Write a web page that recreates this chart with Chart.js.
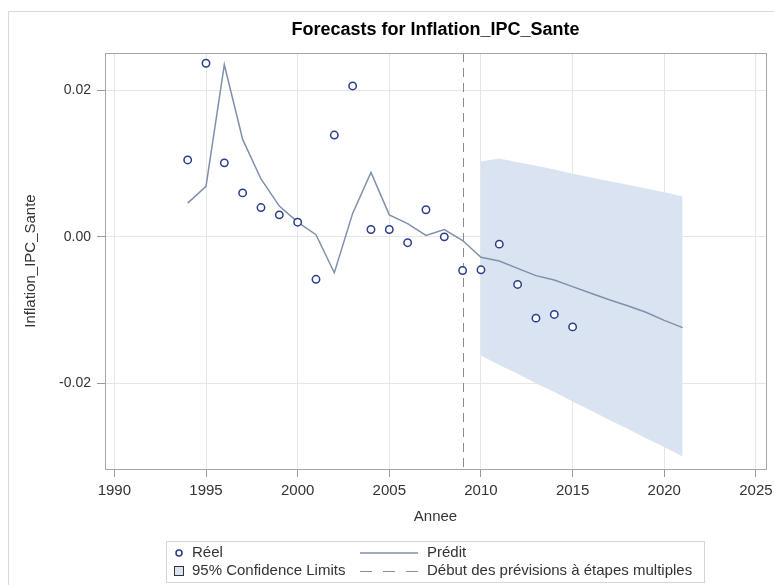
<!DOCTYPE html>
<html>
<head>
<meta charset="utf-8">
<script src="https://cdn.jsdelivr.net/npm/chart.js@4"></script>
<style>
  html, body { margin: 0; padding: 0; background: #fff; }
  #wrap { width: 774px; height: 585px; }
</style>
</head>
<body>
<div id="wrap"><canvas id="myForecastChart" width="774" height="585"></canvas></div>
<script>
// values
const yearsActual = [1994, 1995, 1996, 1997, 1998, 1999, 2000, 2001, 2002, 2003, 2004,
  2005, 2006, 2007, 2008, 2009, 2010, 2011, 2012, 2013, 2014, 2015];
const actual = [0.0105, 0.0237, 0.0101, 0.0060, 0.0040, 0.0030, 0.0020, -0.0058, 0.0139, 0.0206, 0.0010,
  0.0010, -0.0008, 0.0037, 0.0000, -0.0046, -0.0045, -0.0010, -0.0065, -0.0111, -0.0106, -0.0123];

const yearsPred = [1994, 1995, 1996, 1997, 1998, 1999, 2000, 2001, 2002, 2003, 2004, 2005, 2006, 2007,
  2008, 2009, 2010, 2011, 2012, 2013, 2014, 2015, 2016, 2017, 2018, 2019, 2020, 2021];
const predicted = [0.0046, 0.0069, 0.0235, 0.0133, 0.0079, 0.0042, 0.0020, 0.0003, -0.0049, 0.0032, 0.0088, 0.0030, 0.0018, 0.0002,
  0.0010, -0.0005, -0.0028, -0.0033, -0.0043, -0.0053, -0.0059, -0.0068, -0.0077, -0.0086, -0.0094, -0.0103, -0.0114, -0.0124];

const yearsBand = [2010, 2011, 2012, 2013, 2014, 2015, 2016, 2017, 2018, 2019, 2020, 2021];
const upper95 = [0.0103, 0.0107, 0.0102, 0.0097, 0.0092, 0.0086, 0.0081, 0.0076, 0.0071, 0.0066, 0.0061, 0.0055];
const lower95 = [-0.0162, -0.0175, -0.0187, -0.0200, -0.0212, -0.0225, -0.0237, -0.0250, -0.0262, -0.0275, -0.0287, -0.0300];

const forecastStart = 2009;
const xTicks = [1990, 1995, 2000, 2005, 2010, 2015, 2020, 2025];
const yTicks = [-0.02, 0.00, 0.02];

const chartTitle = 'Forecasts for Inflation_IPC_Sante';
const legendItems = ['Réel', 'Prédit', '95% Confidence Limits', 'Début des prévisions à étapes multiples'];

const pointColor = '#2c3c8c';
const lineColor = '#8090aa';
const bandColor = 'rgb(217, 227, 242)';
const textColor = '#333333';
const fontFamily = '"Liberation Sans", Arial, sans-serif';

function pairs(xs, ys) {
  return xs.map((x, i) => ({ x: x, y: ys[i] }));
}

// frame, title, forecast start line and the SAS style legend
const decorations = {
  id: 'decorations',
  beforeDatasetsDraw(chart) {
    const ctx = chart.ctx;
    const a = chart.chartArea;
    const x = chart.scales.x.getPixelForValue(forecastStart);
    ctx.save();
    ctx.strokeStyle = '#8c8c8c';
    ctx.lineWidth = 1;
    ctx.setLineDash([9, 6]);
    ctx.beginPath();
    ctx.moveTo(Math.round(x) + 0.5, a.top);
    ctx.lineTo(Math.round(x) + 0.5, a.bottom);
    ctx.stroke();
    ctx.restore();
  },
  afterDraw(chart) {
    const ctx = chart.ctx;
    const a = chart.chartArea;
    ctx.save();

    // outer border of the graph
    ctx.strokeStyle = '#d9d9d9';
    ctx.lineWidth = 1;
    ctx.beginPath();
    ctx.moveTo(8.5, 585);
    ctx.lineTo(8.5, 11.5);
    ctx.lineTo(774, 11.5);
    ctx.stroke();

    // plot frame
    ctx.strokeStyle = '#a6a6a6';
    ctx.strokeRect(Math.round(a.left) + 0.5, Math.round(a.top) + 0.5,
      Math.round(a.right - a.left), Math.round(a.bottom - a.top));

    // title
    ctx.fillStyle = '#000';
    ctx.font = 'bold 18px ' + fontFamily;
    ctx.textAlign = 'center';
    ctx.textBaseline = 'middle';
    ctx.fillText(chartTitle, (a.left + a.right) / 2, 30);

    // legend box
    ctx.strokeStyle = '#d4d4d4';
    ctx.strokeRect(166.5, 541.5, 538, 41);
    ctx.font = '15px ' + fontFamily;
    ctx.textAlign = 'left';
    ctx.fillStyle = textColor;
    const r1 = 553, r2 = 571;

    ctx.strokeStyle = pointColor;
    ctx.lineWidth = 1.5;
    ctx.beginPath();
    ctx.arc(179, r1, 3, 0, Math.PI * 2);
    ctx.stroke();
    ctx.fillText(legendItems[0], 192, r1);

    ctx.fillStyle = bandColor;
    ctx.fillRect(174, r2 - 5, 10, 10);
    ctx.strokeStyle = '#333';
    ctx.lineWidth = 1;
    ctx.strokeRect(174.5, r2 - 4.5, 9, 9);
    ctx.fillStyle = textColor;
    ctx.fillText(legendItems[2], 192, r2);

    ctx.strokeStyle = lineColor;
    ctx.lineWidth = 1.5;
    ctx.beginPath();
    ctx.moveTo(360, r1);
    ctx.lineTo(418, r1);
    ctx.stroke();
    ctx.fillText(legendItems[1], 427, r1);

    ctx.strokeStyle = '#8c8c8c';
    ctx.lineWidth = 1;
    ctx.setLineDash([12, 11]);
    ctx.beginPath();
    ctx.moveTo(360, r2 + 0.5);
    ctx.lineTo(418, r2 + 0.5);
    ctx.stroke();
    ctx.setLineDash([]);
    ctx.fillText(legendItems[3], 427, r2);

    ctx.restore();
  }
};

var ctx = document.getElementById('myForecastChart');
var myForecastChart = new Chart(ctx, {
  type: 'line',
  data: {
    datasets: [
      {
        label: legendItems[0],
        data: pairs(yearsActual, actual),
        showLine: false,
        pointStyle: 'circle',
        pointRadius: 3.7,
        pointBorderWidth: 1.5,
        pointBorderColor: pointColor,
        pointBackgroundColor: '#fff',
        order: 1
      },
      {
        label: legendItems[1],
        data: pairs(yearsPred, predicted),
        borderColor: lineColor,
        borderWidth: 1.5,
        pointRadius: 0,
        tension: 0,
        fill: false,
        order: 2
      },
      {
        label: 'lower',
        data: pairs(yearsBand, lower95),
        borderWidth: 0,
        borderColor: 'rgba(0,0,0,0)',
        pointRadius: 0,
        fill: false,
        order: 3
      },
      {
        label: legendItems[2],
        data: pairs(yearsBand, upper95),
        borderWidth: 0,
        borderColor: 'rgba(0,0,0,0)',
        backgroundColor: bandColor,
        pointRadius: 0,
        fill: '-1',
        order: 4
      }
    ]
  },
  options: {
    responsive: false,
    animation: false,
    layout: { padding: { top: 53, right: 8, bottom: 56, left: 0 } },
    plugins: {
      legend: { display: false },
      tooltip: { enabled: false },
      filler: { propagate: false }
    },
    scales: {
      x: {
        type: 'linear',
        min: 1989.49,
        max: 2025.55,
        afterBuildTicks: s => { s.ticks = xTicks.map(v => ({ value: v })); },
        afterFit: s => { s.height = 60; s.paddingLeft = 0; s.paddingRight = 0; },
        ticks: {
          color: textColor,
          padding: 5,
          font: { family: fontFamily, size: 15 },
          maxRotation: 0,
          callback: v => String(v)
        },
        grid: { color: '#e6e6e6', tickColor: '#999', tickLength: 8 },
        border: { display: false },
        title: {
          display: true,
          text: 'Annee',
          color: textColor,
          font: { family: fontFamily, size: 15 },
          padding: { top: 0, bottom: 3 }
        }
      },
      y: {
        type: 'linear',
        min: -0.0317,
        max: 0.0251,
        afterBuildTicks: s => { s.ticks = yTicks.map(v => ({ value: v })); },
        afterFit: s => { s.width = 105; s.paddingTop = 0; s.paddingBottom = 0; },
        ticks: {
          color: textColor,
          padding: 6,
          font: { family: fontFamily, size: 14 },
          callback: v => (Math.abs(v) < 1e-9 ? 0 : v).toFixed(2)
        },
        grid: { color: '#e6e6e6', tickColor: '#999', tickLength: 8 },
        border: { display: false },
        title: {
          display: true,
          text: 'Inflation_IPC_Sante',
          color: textColor,
          font: { family: fontFamily, size: 15 },
          padding: { top: 22, bottom: 0 }
        }
      }
    }
  },
  plugins: [decorations]
});
</script>
</body>
</html>
